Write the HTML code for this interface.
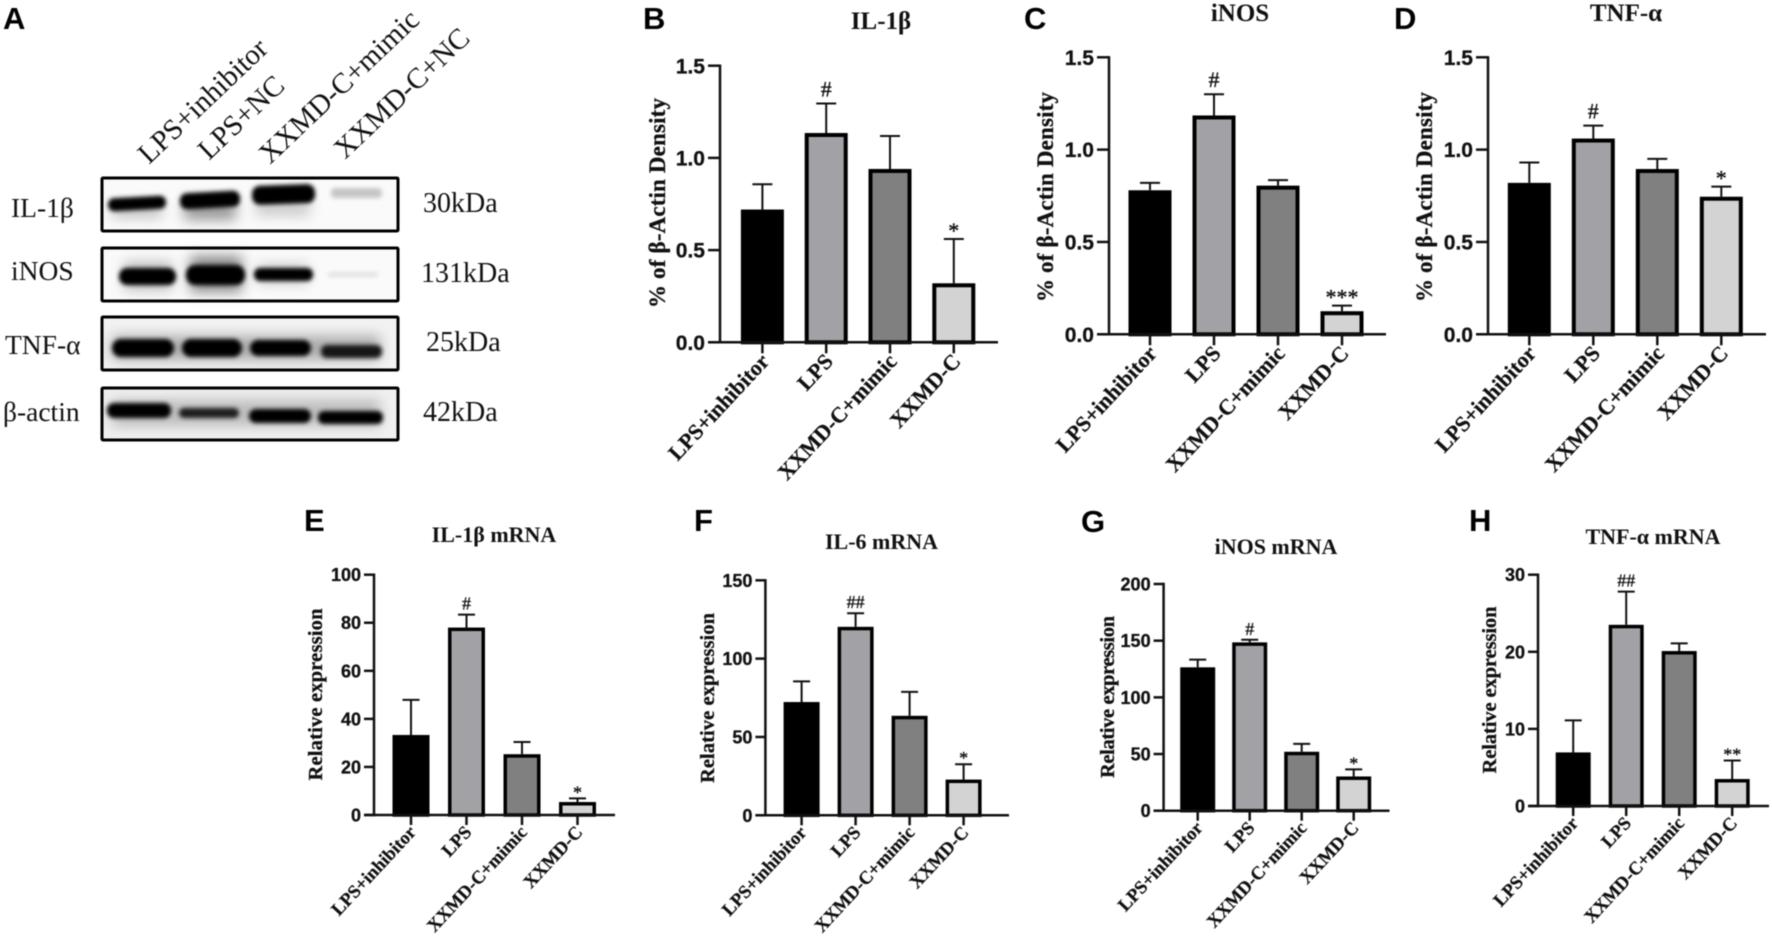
<!DOCTYPE html>
<html lang="en">
<head>
<meta charset="utf-8">
<title>Western blot and mRNA expression figure</title>
<style>
html,body{margin:0;padding:0;background:#fff;}
svg{display:block;filter:blur(0.45px);}
.serif{font-family:"Liberation Serif",serif;}
.sans{font-family:"Liberation Sans",sans-serif;}
</style>
</head>
<body>
<svg id="figure" xmlns="http://www.w3.org/2000/svg" width="1772" height="940" viewBox="0 0 1772 940">
<defs>
<filter id="b1" x="-30%" y="-100%" width="160%" height="300%"><feGaussianBlur stdDeviation="2.2"/></filter>
<filter id="b2" x="-30%" y="-150%" width="160%" height="400%"><feGaussianBlur stdDeviation="6.5"/></filter>
</defs>
<g id="panel-a">
<g class="serif" font-size="29" fill="#111">
<text transform="translate(149,165) rotate(-43.5)">LPS+inhibitor</text>
<text transform="translate(209,161) rotate(-43.5)">LPS+NC</text>
<text transform="translate(270,165) rotate(-43.5)">XXMD-C+mimic</text>
<text transform="translate(345,160) rotate(-43.5)">XXMD-C+NC</text>
</g>
<g>
<rect x="102" y="178" width="296" height="53" fill="#fafafa" stroke="none"/>
<g filter="url(#b2)" fill="#999"><rect x="184" y="200" width="52" height="20"/><rect x="256" y="198" width="54" height="18" fill="#ccc"/><rect x="112" y="205" width="50" height="12" fill="#bbb"/></g>
<g filter="url(#b1)" fill="#000">
<rect x="108" y="197" width="58" height="13" rx="6" transform="rotate(-3 137 203)"/>
<rect x="180" y="192" width="60" height="16" rx="7" transform="rotate(-3 210 200)"/>
<rect x="252" y="185" width="63" height="19" rx="8" transform="rotate(-2 283 194)"/>
<rect x="331" y="188" width="51" height="10" rx="4" fill="#c6c6c6"/>
</g>
<rect x="102" y="178" width="296" height="53" fill="none" stroke="#000" stroke-width="3" rx="1"/>
</g>
<g>
<rect x="102" y="248" width="296" height="53" fill="#fafafa"/>
<g filter="url(#b2)" fill="#888"><rect x="190" y="256" width="52" height="36"/><rect x="124" y="262" width="48" height="28" fill="#bbb"/><rect x="258" y="264" width="50" height="20" fill="#ccc"/></g>
<g filter="url(#b1)" fill="#000">
<rect x="119" y="268" width="57" height="17" rx="8"/>
<rect x="186" y="265" width="59" height="20" rx="9"/>
<rect x="254" y="268" width="59" height="13" rx="6"/>
<rect x="328" y="272" width="50" height="5" rx="2" fill="#e2e2e2"/>
</g>
<rect x="102" y="248" width="296" height="53" fill="none" stroke="#000" stroke-width="3" rx="1"/>
</g>
<g>
<rect x="102" y="317" width="296" height="53" fill="#f2f2f2"/>
<g filter="url(#b2)" fill="#aaa"><rect x="112" y="336" width="268" height="24"/></g>
<g filter="url(#b1)" fill="#000">
<rect x="112" y="339" width="62" height="18" rx="9"/>
<rect x="182" y="339" width="60" height="18" rx="9"/>
<rect x="250" y="340" width="61" height="16" rx="8"/>
<rect x="321" y="345" width="61" height="13" rx="6" fill="#161616"/>
</g>
<rect x="102" y="317" width="296" height="53" fill="none" stroke="#000" stroke-width="3" rx="1"/>
</g>
<g>
<rect x="102" y="388" width="296" height="52" fill="#f0f0f0"/>
<g filter="url(#b2)" fill="#bbb"><rect x="112" y="400" width="268" height="26"/></g>
<g filter="url(#b1)" fill="#000">
<rect x="107" y="403" width="64" height="15" rx="7"/>
<rect x="179" y="408" width="60" height="10" rx="5" fill="#1c1c1c"/>
<rect x="249" y="409" width="62" height="14" rx="7"/>
<rect x="318" y="411" width="65" height="13" rx="6"/>
</g>
<rect x="102" y="388" width="296" height="52" fill="none" stroke="#000" stroke-width="3" rx="1"/>
</g>
<g class="serif" font-size="27.5" fill="#111">
<text x="11" y="217">IL-1β</text>
<text x="11" y="280">iNOS</text>
<text x="5" y="354">TNF-α</text>
<text x="3" y="421">β-actin</text>
</g>
<g class="serif" font-size="28" fill="#111">
<text x="423" y="212">30kDa</text>
<text x="421" y="282">131kDa</text>
<text x="426" y="351">25kDa</text>
<text x="423" y="421">42kDa</text>
</g>
</g>
<g class="sans" font-size="31" font-weight="700" fill="#000">
<text x="3" y="29">A</text>
<text x="643" y="29">B</text>
<text x="1024" y="29">C</text>
<text x="1394" y="29">D</text>
<text x="304" y="531">E</text>
<text x="694" y="531">F</text>
<text x="1081" y="532">G</text>
<text x="1469" y="531">H</text>
</g>
</svg>
<script>
const categories = ["LPS+inhibitor", "LPS", "XXMD-C+mimic", "XXMD-C"];
const fills = ["#000000", "#a2a2a6", "#808080", "#d3d3d3"];

const valuesB = [0.72, 1.135, 0.94, 0.32];
const upperB = [0.857, 1.295, 1.119, 0.56];
const ticksB = ["0.0", "0.5", "1.0", "1.5"];
const sigB = ["", "#", "", "*"];

const valuesC = [0.78, 1.185, 0.805, 0.125];
const upperC = [0.82, 1.3, 0.835, 0.155];
const ticksC = ["0.0", "0.5", "1.0", "1.5"];
const sigC = ["", "#", "", "***"];

const valuesD = [0.82, 1.06, 0.895, 0.745];
const upperD = [0.93, 1.13, 0.95, 0.8];
const ticksD = ["0.0", "0.5", "1.0", "1.5"];
const sigD = ["", "#", "", "*"];

const valuesE = [33.3, 78, 25.3, 5.4];
const upperE = [47.9, 83.4, 30.4, 6.9];
const ticksE = ["0", "20", "40", "60", "80", "100"];
const sigE = ["", "#", "", "*"];

const valuesF = [72.3, 120.3, 63.5, 22.8];
const upperF = [85.5, 129, 78.8, 32.6];
const ticksF = ["0", "50", "100", "150"];
const sigF = ["", "##", "", "*"];

const valuesG = [126.5, 148.5, 52, 30.2];
const upperG = [133.3, 150.8, 59, 36.5];
const ticksG = ["0", "50", "100", "150", "200"];
const sigG = ["", "#", "", "*"];

const valuesH = [6.95, 23.5, 20.1, 3.5];
const upperH = [11.1, 27.8, 21.1, 5.9];
const ticksH = ["0", "10", "20", "30"];
const sigH = ["", "##", "", "**"];

const NS = "http://www.w3.org/2000/svg";
const svg = document.getElementById("figure");

function make(tag, attrs, parent, text) {
  const el = document.createElementNS(NS, tag);
  for (const k in attrs) el.setAttribute(k, attrs[k]);
  if (text !== undefined) el.textContent = text;
  parent.appendChild(el);
  return el;
}

function drawChart(id, title, yTitle, values, upper, ticks, sig, g) {
  const group = make("g", {}, svg);
  
  

  const max = parseFloat(ticks[ticks.length - 1]);
  const yScale = v => g.y0 - (v / max) * (g.y0 - g.yTop);
  const xScale = i => g.cat0 + i * g.step;

  const titleEl = make("text", {x: g.titleX, y: g.titleY, "text-anchor": "middle", "font-family": "Liberation Serif, serif", "font-weight": "700", "font-size": g.titleSize, fill: "#111"}, group, title);
  
  

  const yTitleEl = make("text", {transform: "translate(" + g.yTitleX + "," + g.yTitleY + ") rotate(-90)", "text-anchor": "middle", "font-family": "Liberation Serif, serif", "font-weight": "700", "font-size": g.yTitleSize, textLength: g.yTitleLen, lengthAdjust: "spacing", fill: "#111", stroke: "#111", "stroke-width": 0.3}, group, yTitle);
  
  

  values.forEach((v, i) => {
    const cx = xScale(i);
    const errLine = make("line", {x1: cx, x2: cx, y1: yScale(v), y2: yScale(upper[i]), stroke: "#111", "stroke-width": 2}, group);
    
    

    const errCap = make("line", {x1: cx - g.cap / 2, x2: cx + g.cap / 2, y1: yScale(upper[i]), y2: yScale(upper[i]), stroke: "#111", "stroke-width": 2}, group);
    
    

    const inset = g.barStroke / 2;
    const bar = make("rect", {x: cx - g.barW / 2 + inset, y: yScale(v) + inset, width: g.barW - g.barStroke, height: Math.max(0, g.y0 - yScale(v) - inset), fill: fills[i], stroke: "#000", "stroke-width": g.barStroke}, group);
    
    

    if (sig[i]) {
      const isHash = sig[i].charAt(0) === "#";
      const mark = make("text", {x: cx, y: yScale(upper[i]) - (isHash ? g.hashGap : g.starGap), "text-anchor": "middle", "font-family": "Liberation Serif, serif", "font-size": g.sigSize, fill: "#111", stroke: "#111", "stroke-width": 0.35}, group, sig[i]);
      
      
    }

    const tick = make("line", {x1: cx, x2: cx, y1: g.y0, y2: g.y0 + g.xTick, stroke: "#111", "stroke-width": 2.5}, group);
    
    

    const label = make("text", {transform: "translate(" + (cx + g.labelDx) + "," + (g.y0 + g.labelDy) + ") rotate(-47)", "text-anchor": "end", "font-family": "Liberation Serif, serif", "font-weight": "700", "font-size": g.labelSize, fill: "#111", stroke: "#111", "stroke-width": 0.25}, group, categories[i]);
    
    
  });

  ticks.forEach(t => {
    const ty = yScale(parseFloat(t));
    const tick = make("line", {x1: g.axisX - g.yTick, x2: g.axisX, y1: ty, y2: ty, stroke: "#111", "stroke-width": 2.5}, group);
    
    

    const label = make("text", {x: g.axisX - g.yTick - 3, y: ty + g.tickSize * 0.36, "text-anchor": "end", "font-family": "Liberation Sans, sans-serif", "font-weight": "700", "font-size": g.tickSize, fill: "#111", stroke: "#111", "stroke-width": 0.3}, group, t);
    
    
  });

  const yAxis = make("line", {x1: g.axisX, x2: g.axisX, y1: g.yTop - 1.2, y2: g.y0 + 1.2, stroke: "#111", "stroke-width": 2.5}, group);
  
  

  const xAxis = make("line", {x1: g.axisX - g.yTick, x2: g.right, y1: g.y0, y2: g.y0, stroke: "#111", "stroke-width": 2.5}, group);
  
  
}

const upperStyle = {titleSize: 25, yTitleSize: 23, labelSize: 22, tickSize: 21, sigSize: 22, barStroke: 4, cap: 20, yTick: 12, xTick: 11, labelDx: 8, labelDy: 20, hashGap: 7, starGap: 1};
const lowerStyle = {titleSize: 22, yTitleSize: 20.5, labelSize: 18.5, tickSize: 18, sigSize: 18, barStroke: 3.5, cap: 17, yTick: 10, xTick: 10, labelDx: 6, labelDy: 18, hashGap: 5, starGap: 0};

drawChart("b", "IL-1β", "% of β-Actin Density", valuesB, upperB, ticksB, sigB, Object.assign({}, upperStyle, {axisX: 720, yTop: 65.7, y0: 342.3, right: 998, cat0: 762.4, step: 63.8, barW: 43, titleX: 881, titleY: 29, yTitleX: 665, yTitleY: 203, yTitleLen: 210}));
drawChart("c", "iNOS", "% of β-Actin Density", valuesC, upperC, ticksC, sigC, Object.assign({}, upperStyle, {axisX: 1109, yTop: 57.3, y0: 334.3, right: 1386, cat0: 1150, step: 64, barW: 43, titleX: 1240, titleY: 21, yTitleX: 1053, yTitleY: 197, yTitleLen: 210}));
drawChart("d", "TNF-α", "% of β-Actin Density", valuesD, upperD, ticksD, sigD, Object.assign({}, upperStyle, {axisX: 1488, yTop: 57.3, y0: 334.3, right: 1766, cat0: 1529.3, step: 64, barW: 43, titleX: 1626, titleY: 21, yTitleX: 1432, yTitleY: 197, yTitleLen: 210}));
drawChart("e", "IL-1β mRNA", "Relative expression", valuesE, upperE, ticksE, sigE, Object.assign({}, lowerStyle, {axisX: 374, yTop: 574.7, y0: 815, right: 615, cat0: 411, step: 55.5, barW: 37, titleX: 494, titleY: 542, yTitleX: 322, yTitleY: 694.5, yTitleLen: 172}));
drawChart("f", "IL-6 mRNA", "Relative expression", valuesF, upperF, ticksF, sigF, Object.assign({}, lowerStyle, {axisX: 765.4, yTop: 580.3, y0: 815.3, right: 1009, cat0: 801.6, step: 54, barW: 36, titleX: 881.5, titleY: 549, yTitleX: 714, yTitleY: 698, yTitleLen: 170}));
drawChart("g", "iNOS mRNA", "Relative expression", valuesG, upperG, ticksG, sigG, Object.assign({}, lowerStyle, {axisX: 1163.6, yTop: 584, y0: 810.7, right: 1389.5, cat0: 1197.7, step: 52, barW: 35, titleX: 1276, titleY: 554, yTitleX: 1114, yTitleY: 697, yTitleLen: 162}));
drawChart("h", "TNF-α mRNA", "Relative expression", valuesH, upperH, ticksH, sigH, Object.assign({}, lowerStyle, {axisX: 1538, yTop: 574.7, y0: 806, right: 1769, cat0: 1573.2, step: 53, barW: 35, titleX: 1653, titleY: 544, yTitleX: 1496, yTitleY: 690, yTitleLen: 167}));
</script>
</body>
</html>
